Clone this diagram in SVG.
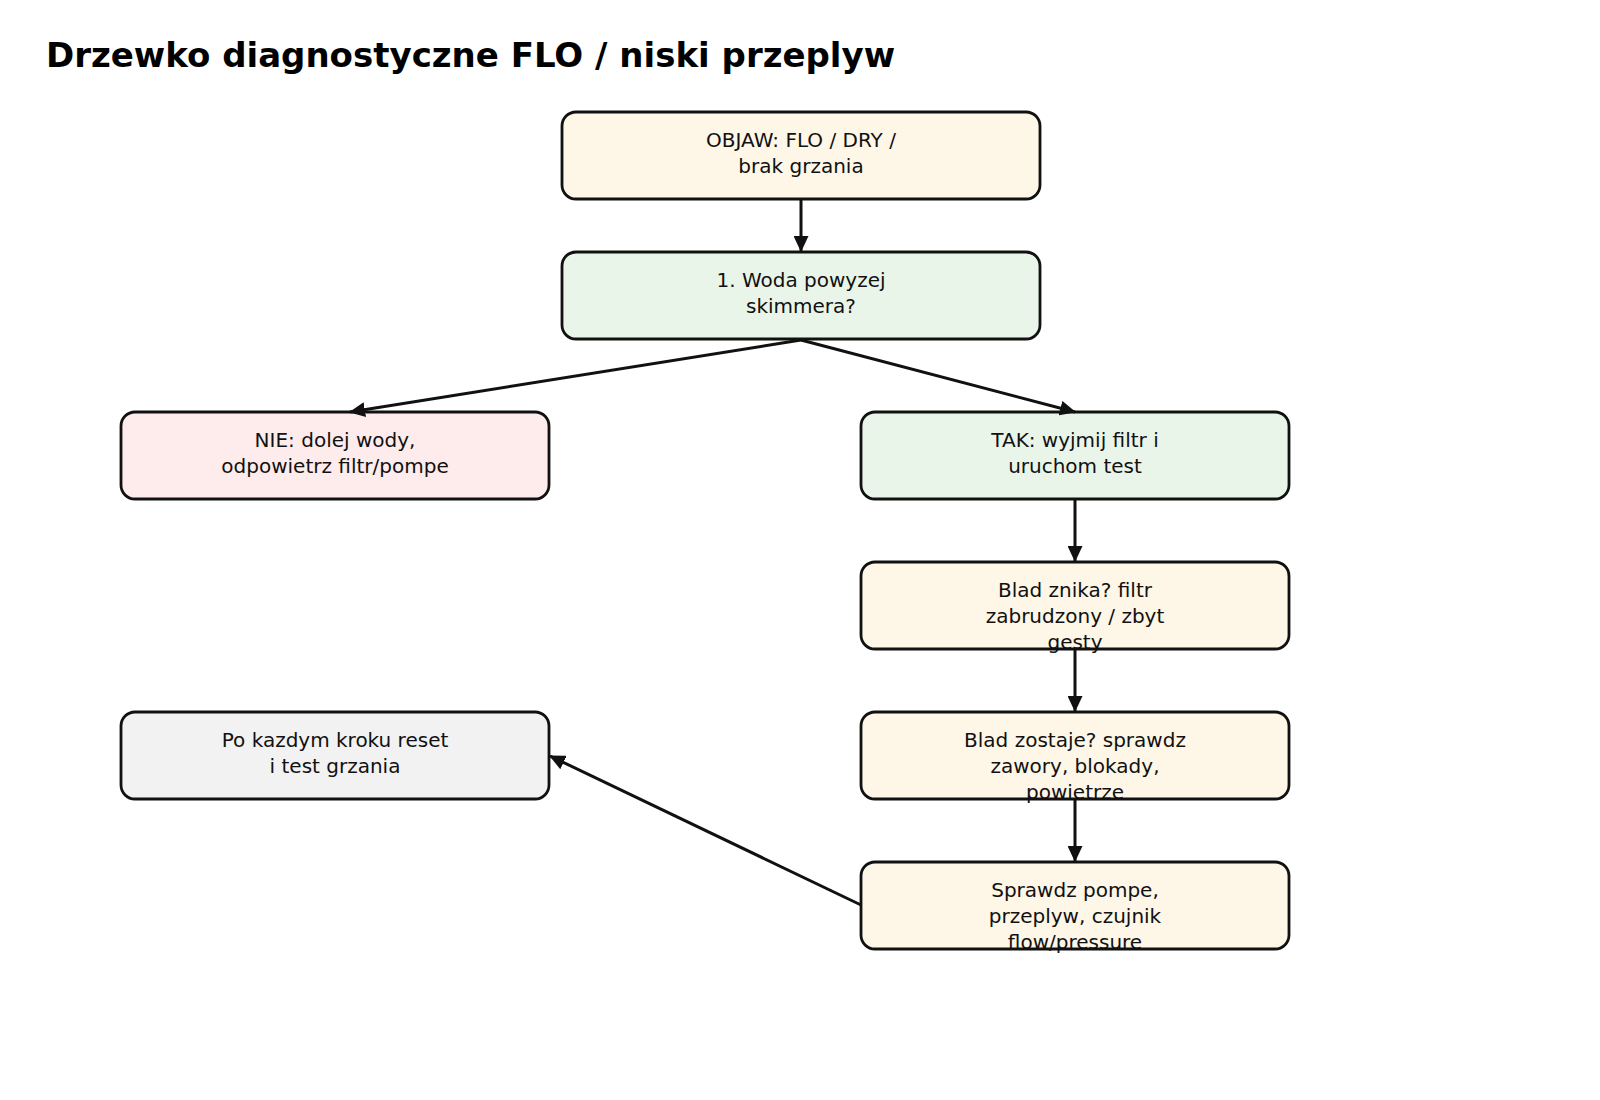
<svg xmlns="http://www.w3.org/2000/svg" width="1600" height="1100" viewBox="0 0 1600 1100">
<defs>
<style>
.bd{stroke:#111;stroke-width:2.8;fill:none}
.cream{fill:#fef6e6}
.green{fill:#eaf5ea}
.pink{fill:#feecec}
.grey{fill:#f2f2f2}
.t{font-family:"DejaVu Sans",sans-serif;font-size:20px;fill:#111;text-anchor:middle}
.title{font-family:"DejaVu Sans",sans-serif;font-size:34px;font-weight:bold;fill:#000}
.edge{stroke:#111;stroke-width:3;fill:none;marker-end:url(#ah)}
</style>
<marker id="ah" markerWidth="16" markerHeight="15" refX="15" refY="7.5" orient="auto" markerUnits="userSpaceOnUse">
<path d="M0,0 L16,7.5 L0,15 z" fill="#111"/>
</marker>
</defs>
<rect width="1600" height="1100" fill="#fff"/>
<text class="title" x="46" y="67">Drzewko diagnostyczne FLO / niski przeplyw</text>
<g id="n1"><rect class="cream" x="562" y="112" width="478" height="87" rx="14"/>
<text class="t" x="801" y="147">OBJAW: FLO / DRY /</text><text class="t" x="801" y="173">brak grzania</text>
<rect class="bd" x="562" y="112" width="478" height="87" rx="14"/></g>
<g id="n2"><rect class="green" x="562" y="252" width="478" height="87" rx="14"/>
<text class="t" x="801" y="287">1. Woda powyzej</text><text class="t" x="801" y="313">skimmera?</text>
<rect class="bd" x="562" y="252" width="478" height="87" rx="14"/></g>
<g id="n3"><rect class="pink" x="121" y="412" width="428" height="87" rx="14"/>
<text class="t" x="335" y="447">NIE: dolej wody,</text><text class="t" x="335" y="473">odpowietrz filtr/pompe</text>
<rect class="bd" x="121" y="412" width="428" height="87" rx="14"/></g>
<g id="n4"><rect class="green" x="861" y="412" width="428" height="87" rx="14"/>
<text class="t" x="1075" y="447">TAK: wyjmij filtr i</text><text class="t" x="1075" y="473">uruchom test</text>
<rect class="bd" x="861" y="412" width="428" height="87" rx="14"/></g>
<g id="n5"><rect class="cream" x="861" y="562" width="428" height="87" rx="14"/>
<text class="t" x="1075" y="597">Blad znika? filtr</text><text class="t" x="1075" y="623">zabrudzony / zbyt</text><text class="t" x="1075" y="649">gesty</text>
<rect class="bd" x="861" y="562" width="428" height="87" rx="14"/></g>
<g id="n6"><rect class="cream" x="861" y="712" width="428" height="87" rx="14"/>
<text class="t" x="1075" y="747">Blad zostaje? sprawdz</text><text class="t" x="1075" y="773">zawory, blokady,</text><text class="t" x="1075" y="799">powietrze</text>
<rect class="bd" x="861" y="712" width="428" height="87" rx="14"/></g>
<g id="n7"><rect class="cream" x="861" y="862" width="428" height="87" rx="14"/>
<text class="t" x="1075" y="897">Sprawdz pompe,</text><text class="t" x="1075" y="923">przeplyw, czujnik</text><text class="t" x="1075" y="949">flow/pressure</text>
<rect class="bd" x="861" y="862" width="428" height="87" rx="14"/></g>
<g id="n8"><rect class="grey" x="121" y="712" width="428" height="87" rx="14"/>
<text class="t" x="335" y="747">Po kazdym kroku reset</text><text class="t" x="335" y="773">i test grzania</text>
<rect class="bd" x="121" y="712" width="428" height="87" rx="14"/></g>
<g id="connectors">
<line class="edge" x1="801" y1="199" x2="801" y2="251"/>
<line class="edge" x1="801" y1="340" x2="350" y2="412"/>
<line class="edge" x1="801" y1="340" x2="1075" y2="412"/>
<line class="edge" x1="1075" y1="500" x2="1075" y2="561"/>
<line class="edge" x1="1075" y1="650" x2="1075" y2="711"/>
<line class="edge" x1="1075" y1="800" x2="1075" y2="861"/>
<line class="edge" x1="861" y1="905" x2="550" y2="756"/>
</g>
</svg>
